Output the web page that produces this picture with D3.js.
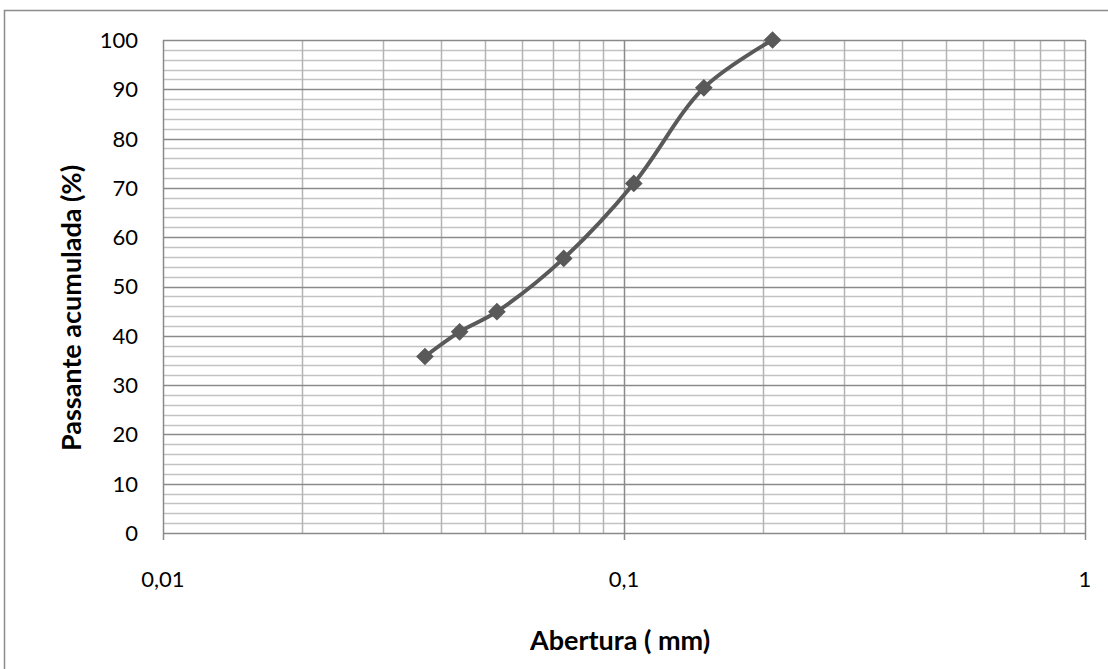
<!DOCTYPE html>
<html><head><meta charset="utf-8">
<script src="https://cdn.jsdelivr.net/npm/d3@7"></script>
<style>
html,body{margin:0;padding:0;background:#fff;}
svg text{font-family:Lato,"Open Sans","Liberation Sans",sans-serif;fill:#000;}
</style></head>
<body><svg id="c" width="1108" height="669"></svg>
<script>
const aberturaMm = [0.037, 0.044, 0.053, 0.074, 0.105, 0.149, 0.210];
const passantePct = [35.8, 40.8, 44.9, 55.7, 70.9, 90.3, 100];
const xTickValues = [0.01, 0.1, 1];
const xTickLabels = ["0,01", "0,1", "1"];
const yTickValues = [0, 10, 20, 30, 40, 50, 60, 70, 80, 90, 100];
const xTitle = "Abertura ( mm)";
const yTitle = "Passante acumulada (%)";

const svg = d3.select("#c");
const L = 163, R = 1085, T = 40, B = 533;
const x = d3.scaleLog().domain([0.01, 1]).range([L, R]);
const y = d3.scaleLinear().domain([0, 100]).range([B, T]);

svg.append("rect").attr("x", 4.5).attr("y", 10.5).attr("width", 1120).attr("height", 700)
  .attr("fill", "none").attr("stroke", "#8c8c8c").attr("stroke-width", 1.5);

const g = svg.append("g");
const yMinor = d3.range(0, 101, 2).filter(v => v % 10 !== 0);
g.selectAll(".hmin").data(yMinor).join("line")
  .attr("x1", L).attr("x2", R).attr("y1", d => Math.round(y(d)) + 0.5).attr("y2", d => Math.round(y(d)) + 0.5)
  .attr("stroke", "#c3c3c3").attr("stroke-width", 1.5);
const xMinor = [];
[0.01, 0.1].forEach(dec => { for (let k = 2; k <= 9; k++) xMinor.push(dec * k); });
g.selectAll(".vmin").data(xMinor).join("line")
  .attr("y1", T).attr("y2", B).attr("x1", d => Math.round(x(d)) + 0.5).attr("x2", d => Math.round(x(d)) + 0.5)
  .attr("stroke", "#b4b4b4").attr("stroke-width", 1.5);
g.selectAll(".hmaj").data(yTickValues).join("line")
  .attr("x1", L).attr("x2", R).attr("y1", d => Math.round(y(d)) + 0.5).attr("y2", d => Math.round(y(d)) + 0.5)
  .attr("stroke", "#8a8a8a").attr("stroke-width", 1.5);
g.selectAll(".vmaj").data(xTickValues).join("line")
  .attr("y1", T).attr("y2", B + 7).attr("x1", d => Math.round(x(d)) + 0.5).attr("x2", d => Math.round(x(d)) + 0.5)
  .attr("stroke", "#8a8a8a").attr("stroke-width", 1.5);

svg.selectAll(".yl").data(yTickValues).join("text")
  .attr("x", 138).attr("y", d => y(d)).attr("dy", "0.36em").attr("text-anchor", "end")
  .attr("font-size", 22).text(d => d);
svg.selectAll(".xl").data(xTickValues).join("text")
  .attr("x", d => x(d)).attr("y", 587).attr("text-anchor", "middle")
  .attr("font-size", 22).text((d, i) => xTickLabels[i]);

svg.append("text").attr("x", 620).attr("y", 650).attr("text-anchor", "middle")
  .attr("font-size", 27).attr("font-weight", "bold").text(xTitle);
svg.append("text").attr("transform", "translate(81,308) rotate(-90)")
  .attr("text-anchor", "middle").attr("font-size", 27).attr("font-weight", "bold").text(yTitle);

const pts = aberturaMm.map((v, i) => [x(v), y(passantePct[i])]);
svg.append("path").attr("d", d3.line().curve(d3.curveCatmullRom.alpha(0.5))(pts))
  .attr("fill", "none").attr("stroke", "#595959").attr("stroke-width", 4).attr("stroke-linejoin", "round");
svg.selectAll(".mk").data(pts).join("path")
  .attr("d", d3.symbol().type(d3.symbolDiamond2).size(200)())
  .attr("transform", d => "translate(" + d[0] + "," + d[1] + ")")
  .attr("fill", "#595959");
</script></body></html>
